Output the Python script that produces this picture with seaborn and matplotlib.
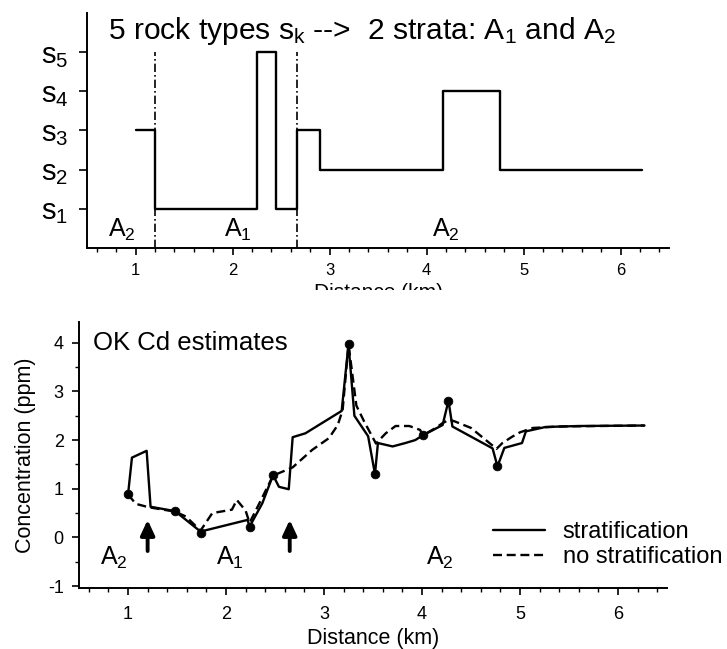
import matplotlib
matplotlib.use("Agg")
import matplotlib.pyplot as plt
from matplotlib.lines import Line2D
from matplotlib.patches import Rectangle
from matplotlib.ticker import MultipleLocator
import seaborn as sns
import pandas as pd

# ---------------- data ----------------
# top panel: rock type sequence along the profile (step changes)
rock_x = [1.0, 1.2, 2.25, 2.45, 2.66, 2.9, 4.17, 4.76, 6.22]
rock_level = [3, 1, 5, 1, 3, 2, 4, 2, 2]
rock_labels = ["s_1", "s_2", "s_3", "s_4", "s_5"]
stratum_bounds = [1.2, 2.66]

# bottom panel: OK Cd estimates
strat_x = [1.0, 1.04, 1.19, 1.23, 1.48, 1.74, 2.22, 2.24, 2.37, 2.48, 2.54, 2.64,
           2.68, 2.81, 3.18, 3.25, 3.31, 3.45, 3.52, 3.55, 3.70, 3.83, 3.93, 4.01,
           4.21, 4.27, 4.31, 4.72, 4.77, 4.84, 5.02, 5.06, 5.26, 5.60, 6.27]
strat_y = [0.88, 1.64, 1.78, 0.63, 0.54, 0.12, 0.36, 0.22, 0.70, 1.28, 1.04, 0.99,
           2.06, 2.14, 2.60, 3.97, 2.50, 2.08, 1.30, 1.94, 1.87, 1.94, 2.00, 2.10,
           2.31, 2.81, 2.28, 1.83, 1.46, 1.84, 1.94, 2.18, 2.27, 2.29, 2.30]

nostrat_x = [1.0, 1.08, 1.21, 1.48, 1.59, 1.74, 1.86, 2.06, 2.11, 2.20, 2.24, 2.34,
             2.48, 2.68, 2.88, 3.05, 3.14, 3.19, 3.25, 3.33, 3.41, 3.53, 3.63, 3.73,
             3.87, 3.98, 4.01, 4.14, 4.21, 4.28, 4.34, 4.50, 4.67, 4.76, 4.82, 4.92,
             5.0, 5.13, 5.4, 5.8, 6.27]
nostrat_y = [0.88, 0.69, 0.62, 0.53, 0.43, 0.14, 0.50, 0.57, 0.77, 0.55, 0.30, 0.70,
             1.27, 1.44, 1.80, 2.04, 2.31, 2.62, 3.97, 2.71, 2.38, 1.93, 2.14, 2.29,
             2.29, 2.21, 2.10, 2.25, 2.35, 2.42, 2.38, 2.25, 1.97, 1.82, 1.94, 2.07,
             2.16, 2.25, 2.28, 2.29, 2.30]

data_x = [1.0, 1.48, 1.74, 2.24, 2.48, 3.25, 3.52, 4.01, 4.27, 4.77]
data_y = [0.9, 0.55, 0.1, 0.22, 1.28, 3.97, 1.3, 2.1, 2.81, 1.46]

arrow_x = [1.2, 2.65]
series_names = ["stratification", "no stratification"]

# ---------------- style ----------------
sns.set_theme(style="ticks")
plt.rcParams["font.family"] = ["Liberation Sans", "DejaVu Sans"]
plt.rcParams["mathtext.fontset"] = "custom"
plt.rcParams["mathtext.rm"] = "Liberation Sans"
plt.rcParams["mathtext.it"] = "Liberation Sans:italic"
plt.rcParams["mathtext.bf"] = "Liberation Sans:bold"
plt.rcParams["axes.unicode_minus"] = False
for k in ("text.color", "axes.edgecolor", "axes.labelcolor", "xtick.color",
          "ytick.color", "xtick.labelcolor", "ytick.labelcolor"):
    plt.rcParams[k] = "black"

fig = plt.figure(figsize=(7.27, 6.49), dpi=100)
fig.patch.set_facecolor("white")

ax1 = fig.add_axes([0.1197, 0.6179, 0.8006, 0.3621])
ax2 = fig.add_axes([0.1087, 0.094, 0.8088, 0.41])

for ax in (ax1, ax2):
    ax.set_facecolor("white")
    sns.despine(ax=ax)
    for s in ("left", "bottom"):
        ax.spines[s].set_linewidth(1.4)
    ax.set_xlim(0.5, 6.5)
    ax.xaxis.set_major_locator(MultipleLocator(1))
    ax.xaxis.set_minor_locator(MultipleLocator(0.2))
    ax.tick_params(axis="both", which="major", direction="out", length=5, width=1.2)
    ax.tick_params(axis="both", which="minor", direction="out", length=3, width=1.0)

# ---------------- top panel ----------------
top_df = pd.DataFrame({"x": rock_x, "level": rock_level})
sns.lineplot(data=top_df, x="x", y="level", ax=ax1, color="black", lw=1.7,
             drawstyle="steps-post", sort=False, estimator=None)
for b in stratum_bounds:
    ax1.plot([b, b], [0, 5], color="black", lw=1.2,
             linestyle=(0, (5, 1.8, 1, 1.8)))
ax1.set_ylim(0, 6)
ax1.set_yticks([1, 2, 3, 4, 5])
ax1.set_yticklabels([r"$\mathregular{" + t + "}$" for t in rock_labels], fontsize=21)
ax1.tick_params(axis="y", pad=7.5, length=6)
ax1.tick_params(axis="x", labelsize=12, pad=6)
ax1.set_ylabel("")
ax1.set_xlabel("Distance (km)", fontsize=15)
ax1.xaxis.set_label_coords(0.5, -0.15)
ax1.text(0.716, 5.54,
         r"5 rock types $\mathregular{s_k}$ -->  2 strata: $\mathregular{A_1}$ and $\mathregular{A_2}$",
         fontsize=21.6, ha="left", va="center")
for xt, lab in zip([0.86, 2.06, 4.2], ["A_2", "A_1", "A_2"]):
    ax1.text(xt, 0.46, r"$\mathregular{" + lab + "}$", fontsize=18, ha="center", va="center")

# white band that cuts the top panel's x-label like in the scan
fig.patches.append(Rectangle((0, (649 - 306) / 649), 1, 16 / 649,
                             transform=fig.transFigure, facecolor="white",
                             edgecolor="none", zorder=10))

# ---------------- bottom panel ----------------
bot_df = pd.concat([
    pd.DataFrame({"x": strat_x, "y": strat_y, "method": series_names[0]}),
    pd.DataFrame({"x": nostrat_x, "y": nostrat_y, "method": series_names[1]}),
], ignore_index=True)
sns.lineplot(data=bot_df, x="x", y="y", style="method", ax=ax2, color="black",
             lw=1.7, sort=False, estimator=None,
             dashes={series_names[0]: "", series_names[1]: (3.8, 2.0)},
             legend=False)
sns.scatterplot(x=data_x, y=data_y, ax=ax2, color="black", s=40,
                edgecolor="black", zorder=5)
for ax_ in arrow_x:
    ax2.annotate("", xy=(ax_, 0.36), xytext=(ax_, -0.28),
                 arrowprops=dict(arrowstyle="-|>,head_length=0.6,head_width=0.28",
                                 lw=2.8, color="black", mutation_scale=15,
                                 shrinkA=0, shrinkB=0))
ax2.set_ylim(-1.04, 4.43)
ax2.yaxis.set_major_locator(MultipleLocator(1))
ax2.yaxis.set_minor_locator(MultipleLocator(0.5))
ax2.tick_params(axis="both", labelsize=13)
ax2.tick_params(axis="x", pad=8)
ax2.tick_params(axis="y", pad=6)
ax2.set_xlabel("Distance (km)", fontsize=15.5)
ax2.xaxis.set_label_coords(0.5, -0.15)
ax2.set_ylabel("Concentration (ppm)", fontsize=15.5)
ax2.yaxis.set_label_coords(-0.074, 0.5)
ax2.text(0.64, 4.0, "OK Cd estimates", fontsize=18.5, ha="left", va="center")
for xt, lab in zip([0.86, 2.04, 4.18], ["A_2", "A_1", "A_2"]):
    ax2.text(xt, -0.43, r"$\mathregular{" + lab + "}$", fontsize=18, ha="center", va="center")

handles = [Line2D([], [], color="black", lw=1.7, linestyle="-"),
           Line2D([], [], color="black", lw=1.7, linestyle=(0, (3.8, 2.0)))]
fig.legend(handles, series_names, loc="upper left",
           bbox_to_anchor=(493 / 727, (649 - 521) / 649), frameon=False,
           fontsize=17, handlelength=2.2, handletextpad=0.75, labelspacing=0.12,
           borderpad=0, borderaxespad=0)

fig.savefig("out.png", dpi=100, facecolor="white")
